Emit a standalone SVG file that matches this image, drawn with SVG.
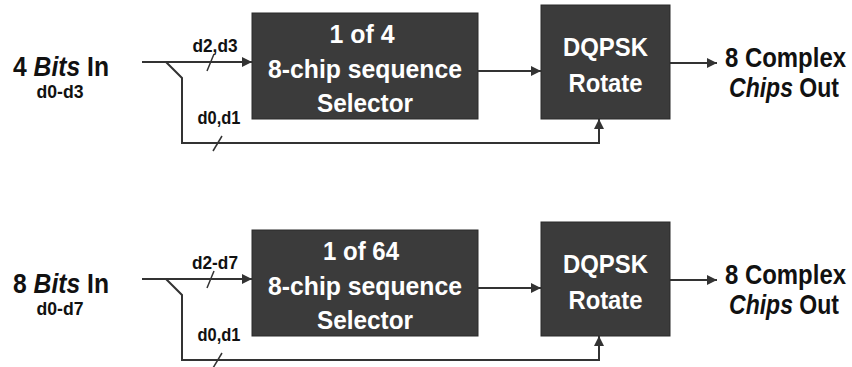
<svg xmlns="http://www.w3.org/2000/svg" width="852" height="367" viewBox="0 0 852 367">
  <style>
    text { font-family: "Liberation Sans Narrow", "Liberation Sans", Arial, sans-serif; font-weight: bold; }
    .lbl { fill: #111; font-size: 28px; }
    .sub { fill: #111; font-size: 19px; }
    .box { fill: #3b3b3b; stroke: #2a2a2a; stroke-width: 1; }
    .boxtxt { fill: #ffffff; font-size: 26px; text-anchor: middle; }
    .wire { fill: none; stroke: #333; stroke-width: 2; }
    .tick { fill: none; stroke: #333; stroke-width: 1.5; }
  </style>
  <defs>
    <marker id="arrow" viewBox="0 0 10 10" refX="10" refY="5" markerWidth="10" markerHeight="10" markerUnits="userSpaceOnUse" orient="auto">
      <path d="M0,0 L10,5 L0,10 Z" fill="#333"/>
    </marker>
  </defs>

  <!-- Upper encoder: 4 bits -->
  <g id="input-4bits">
    <text class="lbl" x="13" y="76" textLength="96" lengthAdjust="spacingAndGlyphs">4 <tspan font-style="italic">Bits</tspan> In</text>
    <text class="sub" x="60" y="98" text-anchor="middle" textLength="47" lengthAdjust="spacingAndGlyphs">d0-d3</text>
  </g>
  <g id="selector-4">
    <rect class="box" x="252" y="13" width="226" height="106"/>
    <text class="boxtxt" x="362" y="43" textLength="65" lengthAdjust="spacingAndGlyphs">1 of 4</text>
    <text class="boxtxt" x="365" y="78" textLength="194" lengthAdjust="spacingAndGlyphs">8-chip sequence</text>
    <text class="boxtxt" x="365" y="112" textLength="96" lengthAdjust="spacingAndGlyphs">Selector</text>
  </g>
  <g id="dqpsk-4">
    <rect class="box" x="541" y="5" width="129" height="114"/>
    <text class="boxtxt" x="605.5" y="56" textLength="85" lengthAdjust="spacingAndGlyphs">DQPSK</text>
    <text class="boxtxt" x="605.5" y="92" textLength="74" lengthAdjust="spacingAndGlyphs">Rotate</text>
  </g>
  <g id="output-4">
    <text class="lbl" x="725" y="67" textLength="121" lengthAdjust="spacingAndGlyphs">8 Complex</text>
    <text class="lbl" x="729" y="97" textLength="110" lengthAdjust="spacingAndGlyphs"><tspan font-style="italic">Chips</tspan> Out</text>
  </g>
  <g id="connectors-4">
    <path class="wire" d="M142,62 H252" marker-end="url(#arrow)"/>
    <path class="wire" d="M166,62 L182,78 V143 H599 V119" marker-end="url(#arrow)"/>
    <path class="wire" d="M478,71 H541" marker-end="url(#arrow)"/>
    <path class="wire" d="M670,63 H717" marker-end="url(#arrow)"/>
    <path class="tick" d="M207,71 L214,54"/>
    <path class="tick" d="M213,151 L222,136"/>
    <text class="sub" x="215" y="52" text-anchor="middle" textLength="45" lengthAdjust="spacingAndGlyphs">d2,d3</text>
    <text class="sub" x="219" y="124" text-anchor="middle" textLength="43" lengthAdjust="spacingAndGlyphs">d0,d1</text>
  </g>

  <!-- Lower encoder: 8 bits -->
  <g id="input-8bits">
    <text class="lbl" x="13" y="293" textLength="96" lengthAdjust="spacingAndGlyphs">8 <tspan font-style="italic">Bits</tspan> In</text>
    <text class="sub" x="60" y="315" text-anchor="middle" textLength="47" lengthAdjust="spacingAndGlyphs">d0-d7</text>
  </g>
  <g id="selector-64">
    <rect class="box" x="252" y="230" width="226" height="106"/>
    <text class="boxtxt" x="361" y="260" textLength="76" lengthAdjust="spacingAndGlyphs">1 of 64</text>
    <text class="boxtxt" x="365" y="295" textLength="194" lengthAdjust="spacingAndGlyphs">8-chip sequence</text>
    <text class="boxtxt" x="365" y="329" textLength="96" lengthAdjust="spacingAndGlyphs">Selector</text>
  </g>
  <g id="dqpsk-8">
    <rect class="box" x="541" y="222" width="129" height="114"/>
    <text class="boxtxt" x="605.5" y="273" textLength="85" lengthAdjust="spacingAndGlyphs">DQPSK</text>
    <text class="boxtxt" x="605.5" y="309" textLength="74" lengthAdjust="spacingAndGlyphs">Rotate</text>
  </g>
  <g id="output-8">
    <text class="lbl" x="725" y="284" textLength="121" lengthAdjust="spacingAndGlyphs">8 Complex</text>
    <text class="lbl" x="729" y="314" textLength="110" lengthAdjust="spacingAndGlyphs"><tspan font-style="italic">Chips</tspan> Out</text>
  </g>
  <g id="connectors-8">
    <path class="wire" d="M142,279 H252" marker-end="url(#arrow)"/>
    <path class="wire" d="M166,279 L182,295 V360 H599 V336" marker-end="url(#arrow)"/>
    <path class="wire" d="M478,288 H541" marker-end="url(#arrow)"/>
    <path class="wire" d="M670,280 H717" marker-end="url(#arrow)"/>
    <path class="tick" d="M207,288 L214,271"/>
    <path class="tick" d="M213,368 L222,353"/>
    <text class="sub" x="215" y="269" text-anchor="middle" textLength="46" lengthAdjust="spacingAndGlyphs">d2-d7</text>
    <text class="sub" x="219" y="341" text-anchor="middle" textLength="43" lengthAdjust="spacingAndGlyphs">d0,d1</text>
  </g>
</svg>
